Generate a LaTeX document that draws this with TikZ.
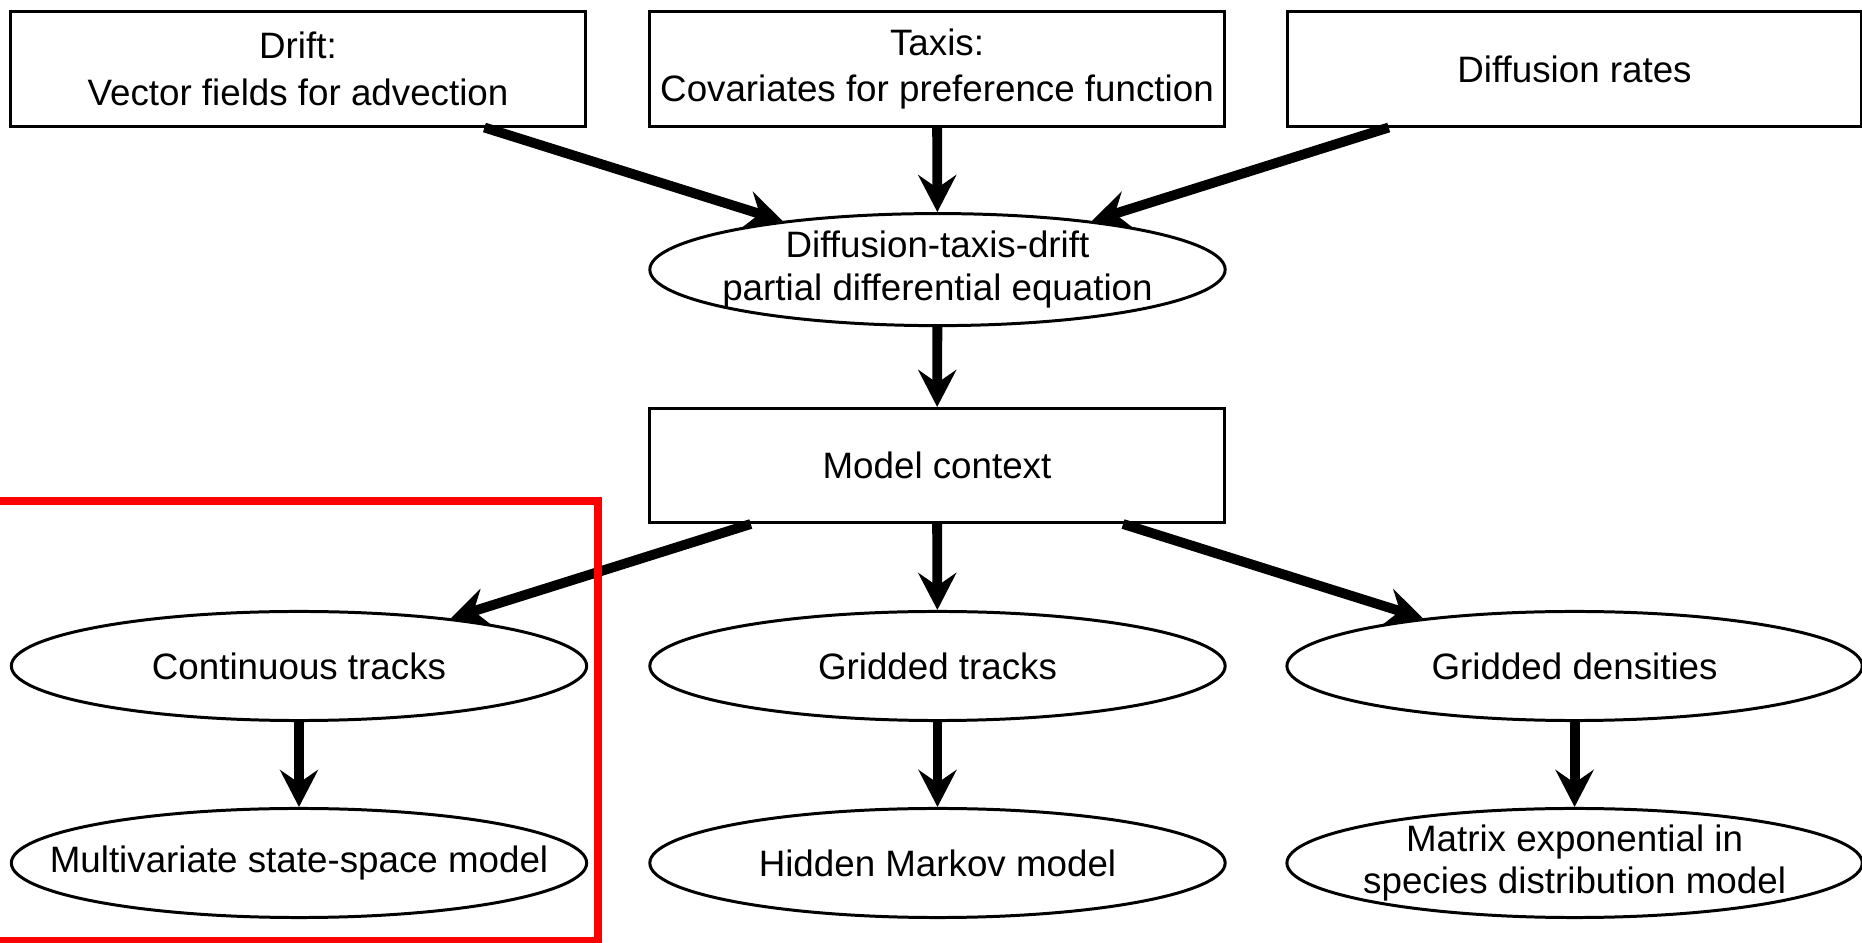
\documentclass[tikz,border=0pt]{standalone}
\usepackage{fontspec}
\setmainfont{Liberation Sans}
\usetikzlibrary{shapes.geometric,arrows.meta}
\newcommand{\zl}[1]{\makebox[0pt]{#1}}
\begin{document}
\begin{tikzpicture}[x=0.01cm,y=-0.01cm,
  every node/.style={font=\fontsize{10.45}{13.2}\selectfont, align=center, inner sep=0pt},
  rbox/.style={draw, line width=0.85pt, rectangle, minimum width=5.75cm, minimum height=1.14cm},
  ell/.style={draw, line width=0.85pt, ellipse, minimum width=5.75cm, minimum height=1.09cm, font=\fontsize{10.45}{12}\selectfont},
  conn/.style={line width=2.8pt, -{Stealth[length=0.37cm,width=0.38cm,inset=0.13cm]}},
  frame/.style={draw=red, line width=2.3pt}]
\useasboundingbox (0,0) rectangle (1862,943);
\clip (0,0) rectangle (1862,943);
% top row
\node[rbox] (drift) at (298,69) {Drift:\\Vector fields for advection};
\node[rbox] (taxis) at (937,69) {Taxis:\\Covariates for preference function};
\node[rbox, minimum width=5.73cm] (diff) at (1574.5,69) {Diffusion rates};
% PDE
\node[ell, minimum height=1.12cm] (pde) at (937.5,269.6) {\zl{Diffusion-taxis-drift}\\\zl{partial differential equation}};
% model context
\node[rbox] (ctx) at (937,465.5) {Model context};
% middle row
\node[ell] (cont) at (299,666) {\zl{Continuous tracks}};
\node[ell] (gtr) at (937.5,666) {\zl{Gridded tracks}};
\node[ell] (gden) at (1574.6,666) {\zl{Gridded densities}};
% bottom row
\node[ell] (mss) at (299,863) {\zl{Multivariate state-space model}};
\node[ell] (hmm) at (937.5,863) {\zl{Hidden Markov model}};
\node[ell] (mexp) at (1574.6,863) {\zl{Matrix exponential in}\\\zl{species distribution model}};
% connectors
\draw[conn] (drift) -- (pde);
\draw[conn] (taxis) -- (pde);
\draw[conn] (diff) -- (pde);
\draw[conn] (pde) -- (ctx);
\draw[conn] (ctx) -- (cont);
\draw[conn] (ctx) -- (gtr);
\draw[conn] (ctx) -- (gden);
\draw[conn] (cont) -- (mss);
\draw[conn] (gtr) -- (hmm);
\draw[conn] (gden) -- (mexp);
% highlight frame
\draw[frame] (-20,501) rectangle (598,941);
\end{tikzpicture}
\end{document}
